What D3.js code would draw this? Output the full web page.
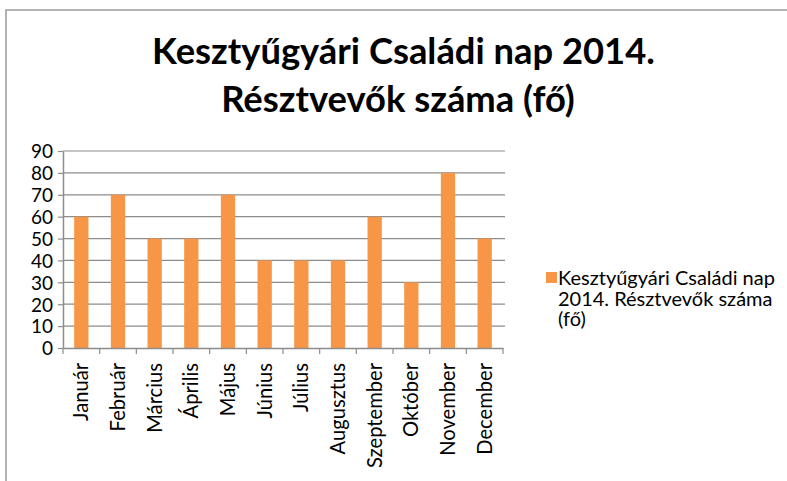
<!DOCTYPE html>
<html><head><meta charset="utf-8">
<script src="https://cdn.jsdelivr.net/npm/d3@7"></script>
<style>body{margin:0;background:#fff}svg{display:block}text{font-family:Lato,"Open Sans",sans-serif}</style>
</head><body>
<svg id="c" width="787" height="481"></svg>
<script>
const categories = ["Január","Február","Március","Április","Május","Június","Július","Augusztus","Szeptember","Október","November","December"];
const values = [60,70,50,50,70,40,40,40,60,30,80,50];
const yTicks = [0,10,20,30,40,50,60,70,80,90];
const titleLines = ["Kesztyűgyári Családi nap 2014.","Résztvevők száma (fő)"];
const legendLines = ["Kesztyűgyári Családi nap","2014. Résztvevők száma","(fő)"];

(function(){
const FONT = "Lato";
const svg = d3.select("#c");
const W = 787, H = 481;
svg.append("rect").attr("x",6).attr("y",10).attr("width",W+10).attr("height",H+10)
  .attr("fill","none").attr("stroke","#9a9a9a").attr("stroke-width",1.5);

const pL = 63, pR = 503, pT = 151, pB = 348;
const x = d3.scaleBand().domain(categories).range([pL,pR]).paddingInner(0.61).paddingOuter(0.305);
const xb = d3.scaleBand().domain(categories).range([pL,pR]);
const y = d3.scaleLinear().domain([0,90]).range([pB,pT]);

function fit(sel, target){
  const w = sel.node().getComputedTextLength();
  const fs = parseFloat(sel.attr("font-size"));
  sel.attr("font-size", fs*target/w);
}

svg.append("g").selectAll("line").data(yTicks.filter(d=>d>0)).join("line")
  .attr("x1",pL).attr("x2",pR+2).attr("y1",d=>y(d)).attr("y2",d=>y(d))
  .attr("stroke","#8c8c8c").attr("stroke-width",1.2);

svg.append("g").selectAll("rect").data(values).join("rect")
  .attr("x",(d,i)=>x(categories[i])).attr("width",x.bandwidth())
  .attr("y",d=>y(d)).attr("height",d=>pB-y(d))
  .attr("fill","#F79646");

const ya = svg.append("g").attr("transform",`translate(${pL},0)`)
  .call(d3.axisLeft(y).tickValues(yTicks).tickSize(5).tickPadding(5).tickSizeOuter(0));
ya.select(".domain").attr("stroke","#8c8c8c").attr("stroke-width",1.5);
ya.selectAll(".tick line").attr("stroke","#8c8c8c").attr("stroke-width",1.2);
ya.selectAll("text").attr("font-family",FONT).attr("font-size",19).attr("fill","#000").attr("dy","0.36em");

const xa = svg.append("g").attr("transform",`translate(0,${pB})`)
  .call(d3.axisBottom(xb).tickSize(0).tickSizeOuter(0));
xa.select(".domain").attr("stroke","#8c8c8c").attr("stroke-width",1.5);
xa.selectAll(".tick line").remove();
svg.append("g").selectAll("line").data(d3.range(categories.length+1)).join("line")
  .attr("x1",i=>pL+i*xb.bandwidth()).attr("x2",i=>pL+i*xb.bandwidth())
  .attr("y1",pB).attr("y2",pB+6).attr("stroke","#8c8c8c").attr("stroke-width",1.2);
const xt = xa.selectAll(".tick text").attr("font-family",FONT).attr("font-size",18).attr("fill","#000")
  .attr("transform","rotate(-90)").attr("text-anchor","end").attr("x",-15).attr("y",0).attr("dy","0.35em");
// size so that "Január" spans about 58px
const jw = xt.filter(d=>d===categories[0]).node().getComputedTextLength();
xt.attr("font-size",18*58/jw);

const t1 = svg.append("text").attr("x",403.5).attr("y",63.5).attr("text-anchor","middle")
  .attr("font-family",FONT).attr("font-weight","bold").attr("font-size",32).text(titleLines[0]);
fit(t1,503);
svg.append("text").attr("x",398).attr("y",112).attr("text-anchor","middle")
  .attr("font-family",FONT).attr("font-weight","bold").attr("font-size",+t1.attr("font-size")).text(titleLines[1]);

svg.append("rect").attr("x",546).attr("y",272).attr("width",11).attr("height",11).attr("fill","#F79646");
const lg = svg.append("g");
legendLines.forEach((s,i)=>{
  const t = lg.append("text").attr("x",558).attr("y",285+i*20.5).attr("font-family",FONT).attr("font-size",16).attr("fill","#000").text(s);
  if(i===0) fit(t,217);
});
const lfs = lg.select("text").attr("font-size");
lg.selectAll("text").attr("font-size",lfs);
})();
</script>
</body></html>
